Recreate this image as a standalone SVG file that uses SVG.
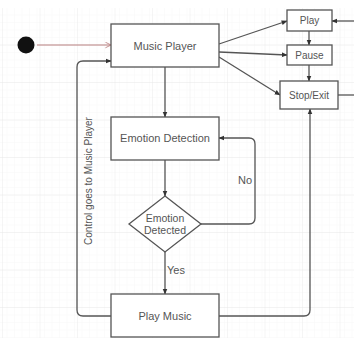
<svg xmlns="http://www.w3.org/2000/svg" width="354" height="338" viewBox="0 0 354 338">
<defs>
<pattern id="minor" width="7.5" height="7.5" patternUnits="userSpaceOnUse" x="0" y="8">
<path d="M7.5 0V7.5H0" fill="none" stroke="#f4f4f4" stroke-width="0.6"/>
</pattern>
<pattern id="major" width="37.5" height="37.5" patternUnits="userSpaceOnUse" x="3" y="8">
<path d="M37.5 0V37.5H0" fill="none" stroke="#e8e8e8" stroke-width="0.8"/>
</pattern>
<marker id="ah" viewBox="0 0 10 10" refX="9" refY="5" markerWidth="6" markerHeight="6" orient="auto" markerUnits="userSpaceOnUse">
<path d="M0 1L10 5L0 9Z" fill="#333"/>
</marker>
<marker id="open" viewBox="0 0 10 10" refX="9" refY="5" markerWidth="7" markerHeight="7" orient="auto" markerUnits="userSpaceOnUse">
<path d="M1 1L9 5L1 9" fill="none" stroke="#b98080" stroke-width="1.2"/>
</marker>
</defs>
<style>
.box{fill:#fff;stroke:#555;stroke-width:1.3}
.t{font-family:"Liberation Sans",Arial,sans-serif;font-size:11px;fill:#555;text-anchor:middle;dominant-baseline:central}
.ts{font-size:10px}
.c{fill:none;stroke:#555;stroke-width:1.3}
</style>
<rect width="354" height="338" fill="#fff"/>
<rect y="8" width="354" height="330" fill="url(#minor)"/>
<rect y="8" width="354" height="330" fill="url(#major)"/>

<g id="connectors">
<line x1="37" y1="45" x2="111" y2="45" stroke="#b98080" stroke-width="1" marker-end="url(#open)"/>
<line class="c" x1="219" y1="44" x2="287" y2="21" marker-end="url(#ah)"/>
<line class="c" x1="219" y1="52" x2="287" y2="55" marker-end="url(#ah)"/>
<line class="c" x1="219" y1="57" x2="280" y2="95" marker-end="url(#ah)"/>
<line class="c" x1="309" y1="31" x2="309" y2="45" marker-end="url(#ah)"/>
<line class="c" x1="309" y1="65" x2="309" y2="81" marker-end="url(#ah)"/>
<line class="c" x1="354" y1="21" x2="332" y2="21" marker-end="url(#ah)"/>
<line class="c" x1="338" y1="95" x2="354" y2="95"/>
<line class="c" x1="165" y1="67" x2="165" y2="117" marker-end="url(#ah)"/>
<line class="c" x1="165" y1="160" x2="165" y2="196" marker-end="url(#ah)"/>
<path class="c" d="M201 224H249Q255 224 255 218V144Q255 138 249 138H219" marker-end="url(#ah)"/>
<line class="c" x1="165" y1="252" x2="165" y2="294" marker-end="url(#ah)"/>
<path class="c" d="M111 316H83Q77 316 77 310V67Q77 61 83 61H111" marker-end="url(#ah)"/>
<path class="c" d="M219 316H304Q310 316 310 310V109" marker-end="url(#ah)"/>
<text class="t" x="245" y="180">No</text>
<text class="t" x="176" y="270">Yes</text>
<text class="t ts" transform="translate(88 181) rotate(-90)">Control goes to Music Player</text>
</g>

<g id="start"><circle cx="26" cy="45" r="8.5" fill="#111"/></g>
<g id="music-player"><rect class="box" x="111" y="24" width="108" height="43"/><text class="t" x="165" y="45.5">Music Player</text></g>
<g id="play"><rect class="box" x="287" y="10" width="45" height="21"/><text class="t ts" x="309.5" y="20.5">Play</text></g>
<g id="pause"><rect class="box" x="287" y="45" width="45" height="20"/><text class="t ts" x="309.5" y="55">Pause</text></g>
<g id="stop-exit"><rect class="box" x="280" y="81" width="58" height="28"/><text class="t ts" x="309" y="95">Stop/Exit</text></g>
<g id="emotion-detection"><rect class="box" x="111" y="117" width="108" height="43"/><text class="t" x="165" y="138">Emotion Detection</text></g>
<g id="emotion-detected"><path class="box" d="M165 196L201 224L165 252L129 224Z"/><text class="t" style="font-size:10.5px" x="165" y="218">Emotion</text><text class="t" style="font-size:10.5px" x="165" y="230">Detected</text></g>
<g id="play-music"><rect class="box" x="111" y="294" width="108" height="43"/><text class="t" x="165" y="316">Play Music</text></g>
</svg>
